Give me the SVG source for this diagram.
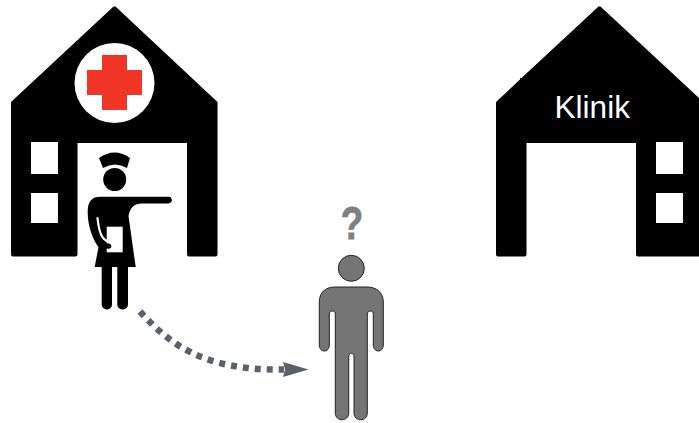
<svg xmlns="http://www.w3.org/2000/svg" width="699" height="423" viewBox="0 0 699 423">
<style>
.w{fill:#fff}
.b{fill:#000}
.lbl{font-family:"Liberation Sans",Arial,sans-serif;font-size:31.6px;fill:#fff}
.q{font-family:"Liberation Sans",Arial,sans-serif;font-weight:700;font-size:46px;fill:#808080;stroke:#808080;stroke-width:.8px;text-anchor:middle}
</style>
<defs>
<marker id="ah" markerUnits="userSpaceOnUse" markerWidth="27" markerHeight="16" refX="1" refY="7.500" orient="0"><path d="M0 0L25.500 7.500L0 15L2 7.500Z" fill="#5b6169"/></marker>
</defs>
<g id="hospital">
<path class="b" d="M113 7Q114.500 5.500 116 7L217.500 102V254.500Q217.500 256.500 215.500 256.500H189Q187 256.500 187 254.500V143H77.500V254.500Q77.500 256.500 75.500 256.500H13Q11 256.500 11 254.500V102Z"/>
<rect class="w" x="31" y="142" width="27" height="32"/>
<rect class="w" x="31" y="193" width="27" height="30"/>
<circle class="w" cx="114.500" cy="83" r="40"/>
<path fill="#f13527" d="M102 55H127V70H142V95H127V110H102V95H87V70H102Z"/>
</g>
<g id="nurse">
<path class="b" d="M99 158Q115 147 130 158L127 168Q115 161 103 168Z"/>
<circle class="b" cx="114.700" cy="179.500" r="11.500"/>
<path class="b" d="M100 196.700H168.500C173 196.700 173 203.500 168.500 203.500H142C134 203.500 130 208 128.500 216L135.700 267H94.700L98.500 247C92 238 87.500 225 87.700 211C88 201 92 196.700 100 196.700Z"/>
<rect class="b" x="101.700" y="262" width="10.300" height="47.500" rx="5"/>
<rect class="b" x="117.300" y="262" width="10.700" height="47.500" rx="5"/>
<rect class="w" x="106.700" y="226.700" width="16" height="25.600"/>
<path fill="none" stroke="#fff" stroke-width="2.200" stroke-linecap="round" d="M97.500 218C98.500 228 100 234 103 238C105 240.500 107.500 241.500 110 242"/>
<path class="b" d="M98.500 247L103 243L109 243.500C112.500 244.500 112 249 108.500 248.800C105 248.300 101.500 248 98.500 247Z"/>
</g>
<g id="person">
<path fill="#757575" stroke="#222" stroke-width="1" d="M335 287H367C377 287 383.300 293 383.300 302V345C383.300 353 373.300 353 373.300 345V314C373.300 310 367.300 310 367.300 314V413C367.300 422 354 422 354 413V357C354 352 348.700 352 348.700 357V413C348.700 422 335.300 422 335.300 413V314C335.300 310 329.300 310 329.300 314V345C329.300 353 319.300 353 319.300 345V302C319.300 293 325 287 335 287Z"/>
<circle fill="#757575" stroke="#222" stroke-width="1" cx="351.300" cy="268.300" r="13"/>
<text class="q" transform="translate(352 238.500) scale(.8 1)">?</text>
</g>
<g id="connectors">
<path fill="none" stroke="#5b6169" stroke-width="6.500" stroke-dasharray="6 6" marker-end="url(#ah)" d="M140 311.500C170 345 205 371 284 369.500"/>
</g>
<g id="clinic">
<path class="b" d="M598 7Q599.500 5.500 601 7L699 98V256.500H638Q636 256.500 636 254.500V143H526.500V254.500Q526.500 256.500 524.500 256.500H498Q496 256.500 496 254.500V102L520 79.500V78H521.500Z"/>
<rect class="w" x="656" y="142" width="27" height="32"/>
<rect class="w" x="656" y="193" width="27" height="30"/>
<text class="lbl" x="554.500" y="117.500">Klinik</text>
</g>
</svg>
